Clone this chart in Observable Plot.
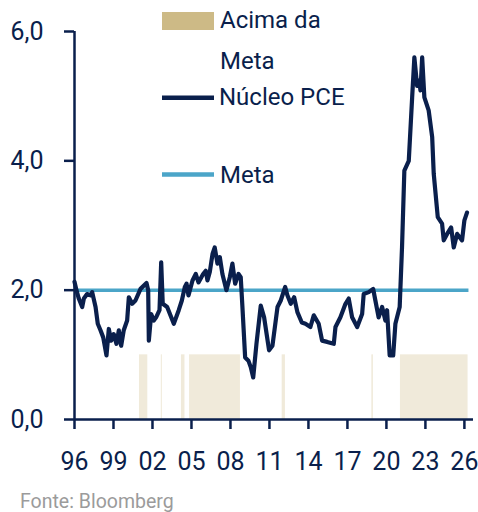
<!DOCTYPE html>
<html>
<head>
<meta charset="utf-8">
<script src="https://cdn.jsdelivr.net/npm/d3@7"></script>
<script src="https://cdn.jsdelivr.net/npm/@observablehq/plot@0.6"></script>
<style>
  html, body { margin: 0; padding: 0; background: #fff; }
  #chart { position: relative; width: 478px; }
  .fonte { font-family: Roboto, sans-serif; font-size: 19.5px; line-height: 22px; color: #9b9b9b; padding-left: 20px; padding-top: 1px; }
</style>
</head>
<body>
<div id="chart"></div>
<script>
// Núcleo PCE (% a/a) — decimal year and value
const pceYears = [1996.00,1996.15,1996.33,1996.59,1996.72,1996.97,1997.23,1997.36,1997.62,1997.79,
1998.00,1998.21,1998.46,1998.64,1998.82,1999.02,1999.23,1999.41,1999.59,1999.79,
2000.05,2000.18,2000.44,2000.69,2001.08,2001.54,2001.67,2001.72,2001.90,2002.10,
2002.28,2002.54,2002.67,2002.79,2003.13,2003.64,2004.02,2004.26,2004.49,2004.62,
2004.77,2005.08,2005.33,2005.54,2005.90,2006.10,2006.23,2006.41,2006.62,2006.79,
2007.00,2007.18,2007.38,2007.69,2007.95,2008.15,2008.36,2008.62,2008.79,2008.92,
2009.13,2009.38,2009.56,2009.75,2010.00,2010.33,2010.59,2010.97,2011.23,2011.62,
2011.87,2012.21,2012.38,2012.64,2012.90,2013.15,2013.49,2013.77,2014.15,2014.41,
2014.79,2015.05,2015.44,2015.95,2016.08,2016.46,2016.85,2017.10,2017.36,2017.75,
2018.13,2018.25,2018.64,2018.98,2019.15,2019.40,2019.67,2019.92,2020.05,2020.25,
2020.52,2020.69,2021.02,2021.20,2021.38,2021.72,2021.98,2022.15,2022.36,2022.52,
2022.62,2022.75,2022.92,2023.25,2023.52,2023.64,2023.95,2024.28,2024.41,2024.67,
2024.98,2025.18,2025.44,2025.82,2026.00,2026.20];
const pceValues = [2.13,2.00,1.87,1.74,1.87,1.94,1.92,1.97,1.74,1.48,
1.38,1.27,0.99,1.40,1.22,1.32,1.17,1.38,1.14,1.38,
1.53,1.89,1.79,1.84,2.02,2.11,2.00,1.22,1.63,1.53,
1.58,1.69,2.43,1.79,1.74,1.48,1.69,1.84,2.05,2.10,
1.92,2.15,2.25,2.12,2.25,2.30,2.15,2.28,2.56,2.66,
2.41,2.51,2.25,2.00,2.20,2.41,2.10,2.25,2.20,1.74,
0.96,0.91,0.81,0.65,1.17,1.76,1.58,1.07,1.14,1.74,
1.84,2.05,1.92,1.79,1.89,1.66,1.50,1.48,1.43,1.61,
1.48,1.22,1.20,1.17,1.43,1.58,1.79,1.87,1.58,1.43,
1.63,1.94,1.97,2.02,1.84,1.58,1.74,1.53,1.69,0.99,
0.99,1.48,1.74,2.66,3.85,4.00,4.98,5.60,5.16,5.24,
5.09,5.60,4.98,4.78,4.37,3.80,3.13,3.03,2.77,2.87,
2.97,2.66,2.87,2.77,3.08,3.20];

// "Acima da Meta" periods (start, end in decimal years), indicator height 1
const acimaStart = [2001.00, 2002.68, 2004.23, 2004.85, 2011.98, 2018.88, 2021.08];
const acimaEnd   = [2001.64, 2002.76, 2004.50, 2008.77, 2012.23, 2019.00, 2026.28];
const acimaLevel = 1;

// Meta (target)
const metaValue = 2;
const metaRange = [1996, 2026.35];

// Axis ticks
const xTicks = [1996, 1999, 2002, 2005, 2008, 2011, 2014, 2017, 2020, 2023, 2026];
const yTicks = [0, 2, 4, 6];

const navy = "#0a1f4c";
const metaColor = "#4ba5c8";
const acimaColor = "#cdba86";

const pce = pceYears.map((x, i) => ({x, y: pceValues[i]}));
const acima = acimaStart.map((s, i) => ({x1: s, x2: acimaEnd[i]}));

const plot = Plot.plot({
  width: 478,
  height: 490,
  marginLeft: 74,
  marginRight: 5,
  marginTop: 31,
  marginBottom: 71,
  style: {fontFamily: "Roboto, sans-serif", background: "#fff", overflow: "visible"},
  x: {domain: [1996, 2026.7]},
  y: {domain: [0, 6]},
  marks: [
    Plot.rectY(acima, {x1: "x1", x2: "x2", y1: 0, y2: acimaLevel, fill: acimaColor, fillOpacity: 0.3}),
    Plot.ruleY([metaValue], {x1: metaRange[0], x2: metaRange[1], stroke: metaColor, strokeWidth: 3.5}),
    Plot.line(pce, {x: "x", y: "y", stroke: navy, strokeWidth: 4.2, strokeLinejoin: "round", strokeLinecap: "round"}),
    Plot.ruleY([0], {stroke: navy, strokeWidth: 2.5}),
    Plot.ruleX([1996], {y1: 0, y2: 6, stroke: navy, strokeWidth: 2.5}),
    Plot.axisX({ticks: xTicks, tickFormat: d => String(d % 100).padStart(2, "0"),
      tickSize: 10, tickPadding: 23, fontSize: 25, color: navy, strokeWidth: 2.5, label: null}),
    Plot.axisY({ticks: yTicks, tickFormat: d => d.toFixed(1).replace(".", ","),
      tickSize: 10, tickPadding: 21, fontSize: 25, color: navy, strokeWidth: 2.5, label: null})
  ]
});

// Legend
const svg = d3.select(plot);
const lg = svg.append("g").attr("font-family", "Roboto, sans-serif").attr("font-size", 24)
  .attr("fill", navy).attr("text-anchor", "start");
lg.append("rect").attr("x", 162).attr("y", 12).attr("width", 52).attr("height", 18).attr("fill", acimaColor);
lg.append("text").attr("x", 220).attr("y", 27.5).text("Acima da");
lg.append("text").attr("x", 220).attr("y", 68.5).text("Meta");
lg.append("line").attr("x1", 162).attr("x2", 214).attr("y1", 97.7).attr("y2", 97.7).attr("stroke", navy).attr("stroke-width", 4.5);
lg.append("text").attr("x", 219).attr("y", 105).text("Núcleo PCE");
lg.append("line").attr("x1", 162).attr("x2", 214).attr("y1", 174.5).attr("y2", 174.5).attr("stroke", metaColor).attr("stroke-width", 4.5);
lg.append("text").attr("x", 220).attr("y", 182.5).text("Meta");

const chart = document.getElementById("chart");
chart.appendChild(plot);
const fonte = document.createElement("div");
fonte.className = "fonte";
fonte.textContent = "Fonte: Bloomberg";
chart.appendChild(fonte);
</script>
</body>
</html>
